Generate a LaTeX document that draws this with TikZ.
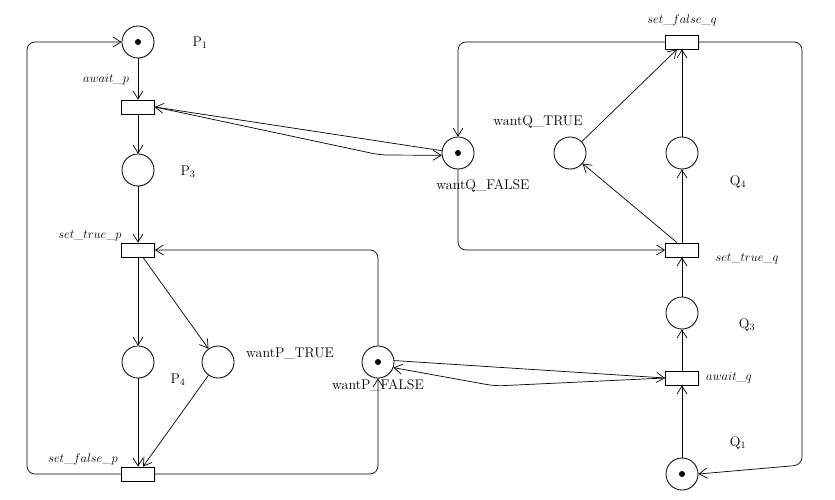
\RequirePackage{fix-cm}
\documentclass[tikz,border=0pt]{standalone}
\usetikzlibrary{arrows.meta,shadows}
\begin{document}
\begin{tikzpicture}[x=1pt,y=-1pt,
  place/.style={circle,draw,line width=0.8pt,minimum size=32pt,inner sep=0pt,fill=white,
    drop shadow={shadow xshift=1pt,shadow yshift=-1pt,opacity=0.15}},
  trans/.style={rectangle,draw,line width=0.8pt,minimum width=33pt,minimum height=14pt,inner sep=0pt,fill=white,
    drop shadow={shadow xshift=1pt,shadow yshift=-1pt,opacity=0.15}},
  arc/.style={line width=0.7pt,-{Straight Barb[length=8pt,width=10pt]},rounded corners=8pt},
  lbl/.style={font=\fontsize{14}{16}\selectfont,inner sep=0pt},
  tlbl/.style={font=\fontsize{12.5}{15}\selectfont,inner sep=0pt},
  tok/.style={circle,fill,inner sep=0pt,minimum size=6pt}]
\useasboundingbox (0,0) rectangle (835,500);

% places
\node[place] (P1) at (138,42) {};
\node[place] (P3) at (138,170) {};
\node[place] (P4) at (138,362) {};
\node[place] (wpt) at (218,362) {};
\node[place] (wpf) at (378,362) {};
\node[place] (wqf) at (458,153) {};
\node[place] (wqt) at (570,153) {};
\node[place] (Q4) at (682,153) {};
\node[place] (Q3) at (682,313) {};
\node[place] (Q1) at (682,474) {};
\node[tok] (tP1) at (P1.center) {};
\node[tok] (twpf) at (wpf.center) {};
\node[tok] (twqf) at (wqf.center) {};
\node[tok] (tQ1) at (Q1.center) {};

% transitions
\node[trans] (ap) at (138,107) {};
\node[trans] (stp) at (138,250) {};
\node[trans] (sfp) at (138,474) {};
\node[trans] (sfq) at (682,42) {};
\node[trans] (stq) at (682,250) {};
\node[trans] (aq) at (682,378) {};

% labels
\node[lbl] (lP1) at (200,43) {P$_1$};
\node[lbl] (lP3) at (188,172) {P$_3$};
\node[lbl] (lP4) at (178,380) {P$_4$};
\node[lbl] (lwpt) at (290,354) {wantP\_TRUE};
\node[lbl] (lwpf) at (378,385) {wantP\_FALSE};
\node[lbl] (lwqf) at (483,186) {wantQ\_FALSE};
\node[lbl] (lwqt) at (538,122) {wantQ\_TRUE};
\node[lbl] (lQ4) at (738,182) {Q$_4$};
\node[lbl] (lQ3) at (747,325) {Q$_3$};
\node[lbl] (lQ1) at (738,443) {Q$_1$};
\node[tlbl] (lap) at (106,80) {$await\_p$};
\node[tlbl] (lstp) at (90,236) {$set\_true\_p$};
\node[tlbl] (lsfp) at (83,459) {$set\_false\_p$};
\node[tlbl] (lsfq) at (682,20) {$set\_false\_q$};
\node[tlbl] (lstq) at (747,259) {$set\_true\_q$};
\node[tlbl] (laq) at (729,378) {$await\_q$};

% bend coordinates
\coordinate (cL1) at (27,474);
\coordinate (cL2) at (27,42);
\coordinate (cP1) at (378,250);
\coordinate (cP2) at (378,474);
\coordinate (cQ1) at (458,42);
\coordinate (cQ2) at (458,250);
\coordinate (cR1) at (802,42);
\coordinate (cR2) at (802,465);
\coordinate (bA) at (380,155);
\coordinate (bB) at (495,386);

% P side
\draw[arc] (sfp.west) -- (cL1) -- (cL2) -- (P1.west);
\draw[arc] (P1) -- (ap);
\draw[arc] (ap) -- (P3);
\draw[arc] (P3) -- (stp);
\draw[arc] (stp) -- (P4);
\draw[arc] ([xshift=5pt]stp.south) -- (wpt);
\draw[arc] (P4) -- (sfp);
\draw[arc] (wpt) -- ([xshift=5pt]sfp.north);
\draw[arc] (wpf.north) -- (cP1) -- (stp.east);
\draw[arc] (sfp.east) -- (cP2) -- (wpf.south);

% Q side
\draw[arc] (sfq.west) -- (cQ1) -- (wqf.north);
\draw[arc] (wqf.south) -- (cQ2) -- (stq.west);
\draw[arc] (sfq.east) -- (cR1) -- (cR2) -- (Q1.east);
\draw[arc] (Q1) -- (aq);
\draw[arc] (aq) -- (Q3);
\draw[arc] (Q3) -- (stq);
\draw[arc] (stq) -- (Q4);
\draw[arc] (Q4) -- (sfq);
\draw[arc] ([xshift=-5pt]stq.north) -- (wqt);
\draw[arc] (wqt) -- ([xshift=-5pt]sfq.south);

% read arcs
\draw[arc] (wqf.172) -- (ap.east);
\draw[arc] (ap.east) -- (bA) -- (wqf.188);
\draw[arc] (wpf.5) -- (aq.west);
\draw[arc] (aq.west) -- (bB) -- (wpf.-20);
\end{tikzpicture}
\end{document}
